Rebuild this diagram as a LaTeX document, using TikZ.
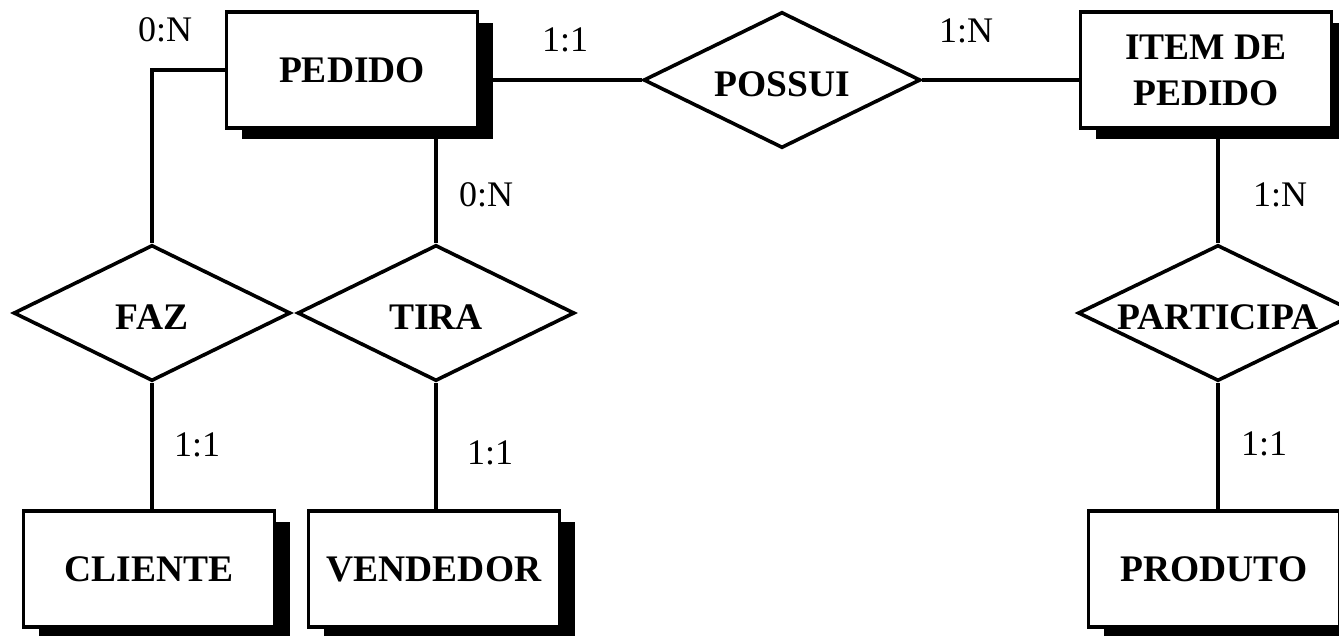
\documentclass[tikz,border=0pt]{standalone}
\usepackage{fontspec}
\setmainfont{Liberation Serif}
\usetikzlibrary{shapes.geometric,shadows}
\newcommand\dmtext[1]{\raisebox{-16.5pt}[0pt][0pt]{\makebox[0pt]{#1}}}
\begin{document}
\begin{tikzpicture}[x=1pt,y=-1pt,
  entity/.style={draw, fill=white, line width=3.6pt, minimum width=251pt, minimum height=116pt,
    inner sep=0pt, font=\fontsize{37.5}{46}\selectfont\bfseries, align=center,
    drop shadow={shadow xshift=15pt, shadow yshift=-11pt, opacity=1, fill=black}},
  rel/.style={shape=diamond, draw, fill=white, line width=3.6pt, inner sep=0pt,
    minimum width=277pt, minimum height=136pt, font=\fontsize{37.5}{46}\selectfont\bfseries},
  card/.style={font=\fontsize{36}{40}\selectfont, inner sep=0pt},
  link/.style={line width=3.6pt}]
\useasboundingbox (0,0) rectangle (1339,635);
\clip (0,0) rectangle (1339,635);
\fill[white] (0,0) rectangle (1339,635);

% entities
\node[entity] (pedido) at (352,70) {PEDIDO};
\node[entity] (item) at (1206,70) {ITEM DE\\PEDIDO};
\node[entity] (cliente) at (149,569) {CLIENTE};
\node[entity] (vendedor) at (434,569) {VENDEDOR};
\node[entity] (produto) at (1214,569) {PRODUTO};

% relationships
\node[rel] (possui) at (782,80) {\dmtext{POSSUI}};
\node[rel] (faz) at (152,313) {\dmtext{FAZ}};
\node[rel] (tira) at (436,313) {\dmtext{TIRA}};
\node[rel, minimum width=280pt] (participa) at (1218,313) {\dmtext{PARTICIPA}};

% connectors
\draw[link] (pedido.west) -| (faz.north);
\draw[link] (tira.north) -- (tira.north |- pedido.south);
\draw[link] (possui.west) -- (possui.west -| pedido.east);
\draw[link] (possui.east) -- (possui.east -| item.west);
\draw[link] (participa.north) -- (participa.north |- item.south);
\draw[link] (faz.south) -- (faz.south |- cliente.north);
\draw[link] (tira.south) -- (tira.south |- vendedor.north);
\draw[link] (participa.south) -- (participa.south |- produto.north);

% cardinalities
\node[card] (c1) at (165,30) {0:N};
\node[card] (c2) at (565,40) {1:1};
\node[card] (c3) at (966,31) {1:N};
\node[card] (c4) at (486,195) {0:N};
\node[card] (c5) at (1280,195) {1:N};
\node[card] (c6) at (197,445) {1:1};
\node[card] (c7) at (490,453) {1:1};
\node[card] (c8) at (1264,444) {1:1};
\end{tikzpicture}
\end{document}
